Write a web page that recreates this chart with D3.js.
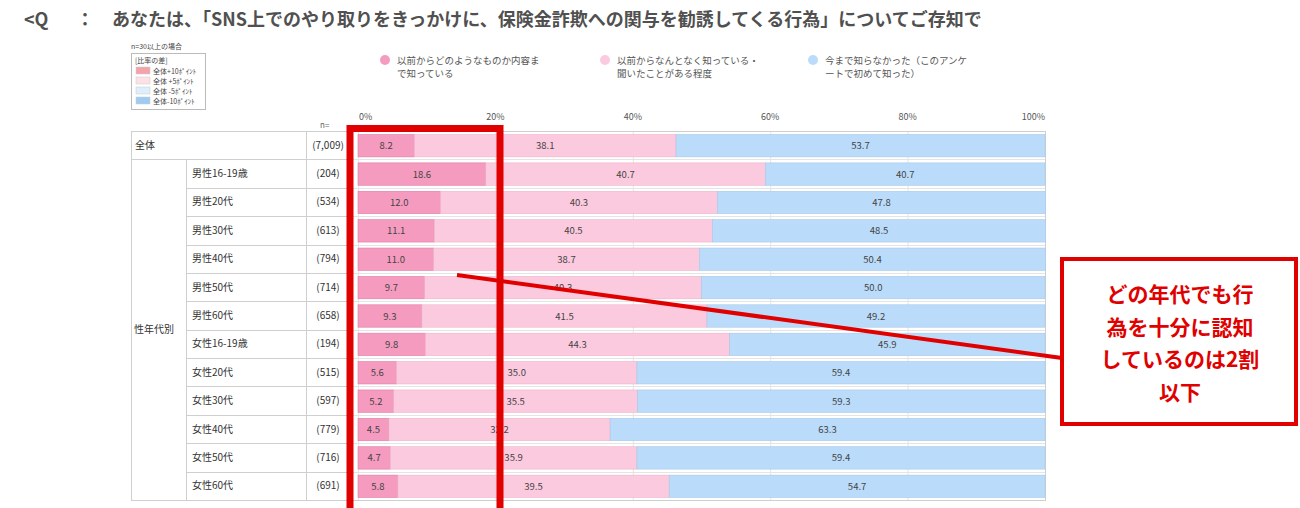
<!DOCTYPE html>
<html>
<head>
<meta charset="utf-8">
<script src="https://cdn.jsdelivr.net/npm/d3@7"></script>
<style>
  body { margin: 0; background: #fff; }
  svg { font-family: "Noto Sans CJK JP", "Noto Sans", sans-serif; }
</style>
</head>
<body>
<div class="main_content"></div>
<script>
// data
const categories = ['全体', '男性16-19歳', '男性20代', '男性30代', '男性40代', '男性50代', '男性60代',
    '女性16-19歳', '女性20代', '女性30代', '女性40代', '女性50代', '女性60代'];
const sampleSizes = ['(7,009)', '(204)', '(534)', '(613)', '(794)', '(714)', '(658)',
    '(194)', '(515)', '(597)', '(779)', '(716)', '(691)'];
const knowContent = [8.2, 18.6, 12.0, 11.1, 11.0, 9.7, 9.3, 9.8, 5.6, 5.2, 4.5, 4.7, 5.8];
const knowVaguely = [38.1, 40.7, 40.3, 40.5, 38.7, 40.3, 41.5, 44.3, 35.0, 35.5, 32.2, 35.9, 39.5];
const didNotKnow = [53.7, 40.7, 47.8, 48.5, 50.4, 50.0, 49.2, 45.9, 59.4, 59.3, 63.3, 59.4, 54.7];
const seriesNames = [
    ['以前からどのようなものか内容ま', 'で知っている'],
    ['以前からなんとなく知っている・', '聞いたことがある程度'],
    ['今まで知らなかった（このアンケ', 'ートで初めて知った）']
];
const seriesColors = ['#f59bbf', '#fccade', '#badcfa'];
const seriesStrokes = ['#e07aa3', '#eeb3c9', '#a6c8ea'];
const ticks = [0, 20, 40, 60, 80, 100];
const diffLegend = ['全体+10ﾎﾟｲﾝﾄ', '全体 +5ﾎﾟｲﾝﾄ', '全体 -5ﾎﾟｲﾝﾄ', '全体-10ﾎﾟｲﾝﾄ'];
const diffColors = ['#f5a3ab', '#fde1e4', '#ddeefc', '#9ecbf4'];
const groupLabel = '性年代別';
const calloutLines = ['どの年代でも行', '為を十分に認知', 'しているのは2割', '以下'];

const W = 1300, H = 508;
const svg = d3.select('.main_content').append('svg')
    .attr('width', W).attr('height', H);

// title
const title = svg.append('g').attr('fill', '#505050').style('font-size', '18px').style('font-weight', 'bold');
title.append('text').attr('x', 24).attr('y', 26).text('<Q');
title.append('text').attr('x', 76).attr('y', 26).text('：');
title.append('text').attr('x', 112).attr('y', 26)
    .text('あなたは、「SNS上でのやり取りをきっかけに、保険金詐欺への関与を勧誘してくる行為」についてご存知で');

// small diff legend
const dl = svg.append('g').style('font-size', '7px').attr('fill', '#444');
dl.append('text').attr('x', 131).attr('y', 49).text('n=30以上の場合');
dl.append('rect').attr('x', 131.5).attr('y', 53.5).attr('width', 74).attr('height', 56)
    .attr('fill', '#fff').attr('stroke', '#bbb');
dl.append('text').attr('x', 135).attr('y', 63).text('[比率の差]');
diffLegend.forEach((t, i) => {
    const yy = 67 + i * 10;
    dl.append('rect').attr('x', 136).attr('y', yy).attr('width', 14).attr('height', 7)
        .attr('fill', diffColors[i]).attr('stroke', '#ccc').attr('stroke-width', 0.5);
    dl.append('text').attr('x', 153).attr('y', yy + 6.5).text(t);
});

// series legend
const legendX = [385, 605, 813];
const sl = svg.append('g').style('font-size', '9.5px').attr('fill', '#555');
seriesNames.forEach((lines, i) => {
    sl.append('circle').attr('cx', legendX[i]).attr('cy', 60).attr('r', 5).attr('fill', seriesColors[i]);
    lines.forEach((l, j) => {
        sl.append('text').attr('x', legendX[i] + 12).attr('y', 63.5 + j * 13.5).text(l);
    });
});

// scales
const x = d3.scaleLinear().domain([0, 100]).range([358, 1045]);
const y = d3.scaleBand().domain(categories).range([131, 500]).padding(0);
const yTop = y.range()[0], yBottom = y.range()[1];

// axis labels + grid
const gridG = svg.append('g')
    .attr('transform', `translate(0,${yTop})`)
    .call(d3.axisTop(x).tickValues(ticks).tickSize(-(yBottom - yTop)).tickFormat(''));
gridG.select('.domain').remove();
gridG.selectAll('line').attr('stroke', '#e4e4e4');

svg.append('g').style('font-size', '9px').attr('fill', '#555')
    .selectAll('text').data(ticks).join('text')
    .attr('x', d => x(d))
    .attr('y', 120)
    .attr('text-anchor', d => d === 0 ? 'start' : (d === 100 ? 'end' : 'middle'))
    .attr('dx', d => d === 0 ? 1 : 0)
    .text(d => d + '%');

// table lines
const table = svg.append('g').attr('stroke', '#cfcfcf').attr('fill', 'none');
table.append('rect').attr('x', 131.5).attr('y', yTop + 0.5).attr('width', x(100) - 131).attr('height', yBottom - yTop);
table.append('line').attr('x1', 306.5).attr('x2', 306.5).attr('y1', yTop).attr('y2', yBottom);
table.append('line').attr('x1', 186.5).attr('x2', 186.5).attr('y1', yTop + y.bandwidth()).attr('y2', yBottom);
categories.slice(1).forEach((c, i) => {
    const yy = Math.round(y(c)) + 0.5;
    table.append('line').attr('x1', i === 0 ? 131 : 186).attr('x2', 350).attr('y1', yy).attr('y2', yy);
    table.append('line').attr('x1', 350).attr('x2', x(100)).attr('y1', yy).attr('y2', yy).attr('stroke', '#e4e4e4');
});
table.append('line').attr('x1', 350.5).attr('x2', 350.5).attr('y1', yTop).attr('y2', yBottom);

// row labels
const labels = svg.append('g').style('font-size', '10px').attr('fill', '#333');
labels.selectAll('.cat').data(categories).join('text')
    .attr('class', 'cat')
    .attr('x', (d, i) => i === 0 ? 135 : 192)
    .attr('y', d => y(d) + y.bandwidth() / 2 + 3.5)
    .text(d => d);
labels.selectAll('.n').data(sampleSizes).join('text')
    .attr('class', 'n')
    .attr('x', 328)
    .attr('text-anchor', 'middle')
    .attr('y', (d, i) => y(categories[i]) + y.bandwidth() / 2 + 3.5)
    .text(d => d);
labels.append('text').attr('x', 134).attr('y', (y(categories[1]) + yBottom) / 2 + 3.5).text(groupLabel);
labels.append('text').attr('x', 320).attr('y', 128).style('font-size', '8px').attr('fill', '#666').text('n=');

// stacked bars
const rows = categories.map((c, i) => ({cat: c, vals: [knowContent[i], knowVaguely[i], didNotKnow[i]]}));
const barH = y.bandwidth() - 6;
const fmt = d3.format('.1f');
rows.forEach(r => {
    let acc = 0;
    r.vals.forEach((v, k) => {
        const x0 = x(acc), x1 = x(acc + v);
        acc += v;
        svg.append('rect')
            .attr('x', x0).attr('y', y(r.cat) + 3.5)
            .attr('width', x1 - x0).attr('height', barH)
            .attr('fill', seriesColors[k])
            .attr('stroke', seriesStrokes[k]).attr('stroke-width', 0.6);
        svg.append('text')
            .attr('x', (x0 + x1) / 2).attr('y', y(r.cat) + 3.5 + barH / 2 + 3.5)
            .attr('text-anchor', 'middle')
            .style('font-size', '9.5px').attr('fill', '#444')
            .text(fmt(v));
    });
});

// annotation
const red = '#e00000';
svg.append('rect').attr('x', 350).attr('y', 128.5).attr('width', 150).attr('height', 390)
    .attr('fill', 'none').attr('stroke', red).attr('stroke-width', 7);
svg.append('line').attr('x1', 457).attr('y1', 275).attr('x2', 1062).attr('y2', 358)
    .attr('stroke', red).attr('stroke-width', 4);
svg.append('rect').attr('x', 1062).attr('y', 259).attr('width', 234).attr('height', 165)
    .attr('fill', '#fff').attr('stroke', red).attr('stroke-width', 4);
svg.append('g').attr('fill', red).style('font-size', '21px').style('font-weight', 'bold')
    .selectAll('text').data(calloutLines).join('text')
    .attr('x', 1180).attr('text-anchor', 'middle')
    .attr('y', (d, i) => 302 + i * 32.5)
    .text(d => d);
</script>
</body>
</html>
